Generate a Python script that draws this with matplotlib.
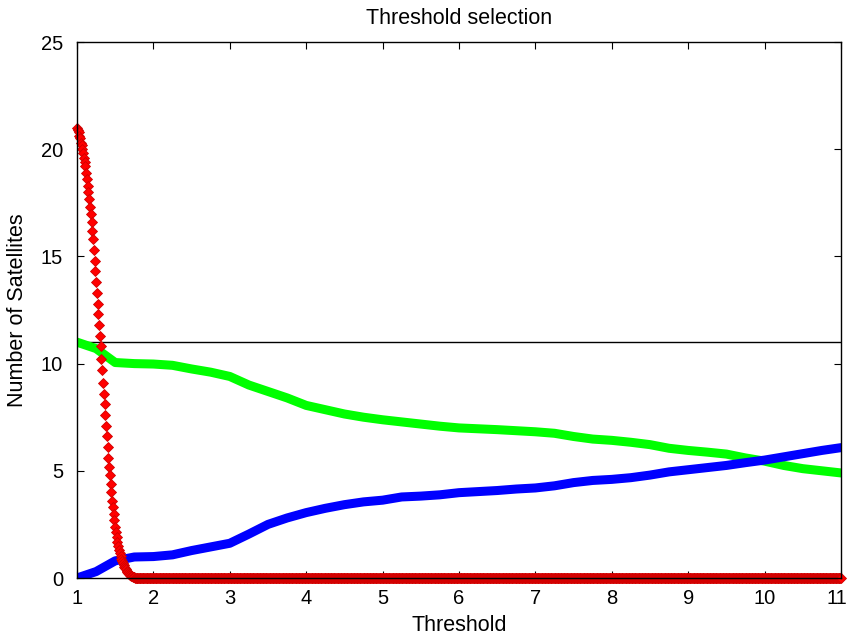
import numpy as np
import matplotlib
matplotlib.use("Agg")
import matplotlib.pyplot as plt
from matplotlib.transforms import ScaledTranslation

plt.rcParams['font.family'] = ['Liberation Sans', 'DejaVu Sans']

# Threshold grid for the red series (step 0.01)
red_x = np.round(np.arange(1.0, 11.0001, 0.01), 2)
# Red series values from threshold 1.00 up to 1.78; zero afterwards
red_head = [21.0, 20.9, 20.8, 20.6, 20.5, 20.3, 20.2, 20.0, 19.8, 19.6,
            19.4, 19.2, 18.9, 18.6, 18.3, 18.0, 17.7, 17.3, 17.0, 16.6,
            16.2, 15.8, 15.3, 14.8, 14.3, 13.8, 13.3, 12.8, 12.3, 11.8,
            11.3, 10.8, 10.2, 9.7, 9.1, 8.6, 8.1, 7.6, 7.1, 6.6,
            6.1, 5.6, 5.2, 4.8, 4.4, 4.0, 3.6, 3.3, 3.0, 2.7,
            2.4, 2.15, 1.9, 1.7, 1.5, 1.32, 1.16, 1.02, 0.9, 0.8,
            0.7, 0.61, 0.53, 0.46, 0.4, 0.34, 0.29, 0.24, 0.2, 0.16,
            0.13, 0.1, 0.08, 0.06, 0.04, 0.03, 0.02, 0.01, 0.005]
red_y = red_head + [0.0] * (len(red_x) - len(red_head))

# Threshold grid for the green and blue series (step 0.25)
curve_x = [1.00, 1.25, 1.50, 1.75, 2.00, 2.25, 2.50, 2.75, 3.00, 3.25,
           3.50, 3.75, 4.00, 4.25, 4.50, 4.75, 5.00, 5.25, 5.50, 5.75,
           6.00, 6.25, 6.50, 6.75, 7.00, 7.25, 7.50, 7.75, 8.00, 8.25,
           8.50, 8.75, 9.00, 9.25, 9.50, 9.75, 10.00, 10.25, 10.50, 10.75,
           11.00]
green_y = [11.0, 10.7, 10.05, 10.0, 9.98, 9.92, 9.75, 9.6, 9.4, 9.0,
           8.7, 8.4, 8.05, 7.85, 7.65, 7.5, 7.38, 7.28, 7.18, 7.08,
           7.0, 6.96, 6.92, 6.87, 6.82, 6.75, 6.6, 6.48, 6.42, 6.33,
           6.22, 6.05, 5.95, 5.87, 5.78, 5.6, 5.45, 5.25, 5.1, 5.0,
           4.9]
blue_y = [0.0, 0.3, 0.8, 0.98, 1.0, 1.08, 1.28, 1.45, 1.62, 2.05,
          2.5, 2.8, 3.05, 3.25, 3.42, 3.55, 3.63, 3.78, 3.82, 3.88,
          3.98, 4.03, 4.08, 4.15, 4.2, 4.3, 4.45, 4.55, 4.6, 4.68,
          4.8, 4.95, 5.05, 5.15, 5.25, 5.38, 5.5, 5.65, 5.8, 5.95,
          6.08]

# Reference level
ref_level = 11

x_ticks = [1, 2, 3, 4, 5, 6, 7, 8, 9, 10, 11]
y_ticks = [0, 5, 10, 15, 20, 25]

fig = plt.figure(figsize=(8.49, 6.39), dpi=100)
ax = fig.add_axes([77 / 849, 61 / 639, 764 / 849, 536 / 639])

ax.plot([x_ticks[0], x_ticks[-1]], [ref_level, ref_level], color='black',
        lw=1.0, zorder=1)
ax.plot(curve_x, green_y, color='#00ff00', lw=6.5, solid_capstyle='round',
        zorder=2)
ax.plot(curve_x, blue_y, color='#0000ff', lw=6.5, solid_capstyle='round',
        zorder=2)
ax.plot(red_x, red_y, linestyle='none', marker='D', markersize=4.8,
        markerfacecolor='#ff0000', markeredgecolor='#d00000',
        markeredgewidth=0.6, zorder=3, clip_on=False)

ax.set_xlim(1, 11)
ax.set_ylim(0, 25)
ax.set_xticks(x_ticks)
ax.set_yticks(y_ticks)
ax.tick_params(direction='in', top=True, right=True, length=5, width=0.8,
               labelsize=14.5)
ax.tick_params(axis='x', pad=8)
ax.tick_params(axis='y', pad=10)
for sp in ax.spines.values():
    sp.set_zorder(4)
    sp.set_linewidth(1.0)

# keep the last x tick label inside the canvas
last_label = ax.get_xticklabels()[-1]
last_label.set_transform(last_label.get_transform()
                         + ScaledTranslation(-4 / 100, 0, fig.dpi_scale_trans))

ax.set_title('Threshold selection', fontsize=15.5, pad=13)
ax.set_xlabel('Threshold', fontsize=15.5, labelpad=5)
ax.set_ylabel('Number of Satellites', fontsize=15.5, labelpad=9)

fig.savefig('out.png', dpi=100)
